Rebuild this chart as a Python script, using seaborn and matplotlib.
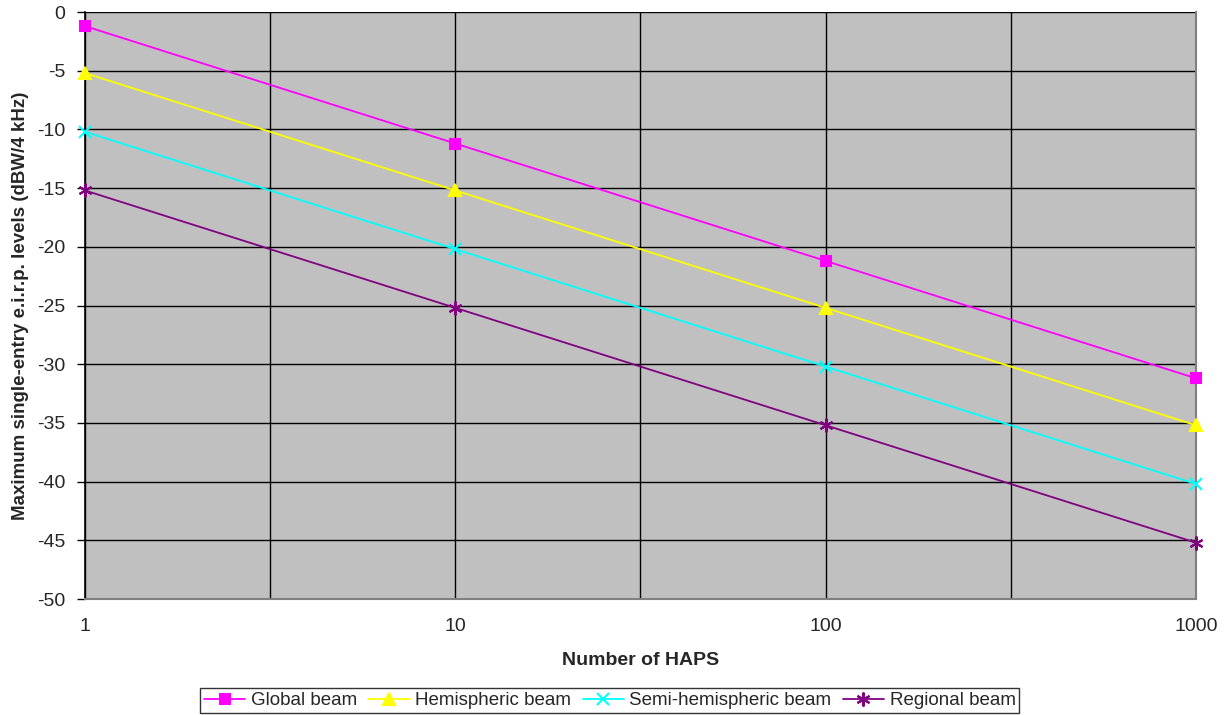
import matplotlib
matplotlib.use("Agg")
import matplotlib.pyplot as plt
import seaborn as sns
import pandas as pd
import numpy as np

haps = [1, 10, 100, 1000]
global_beam = [-1.2, -11.2, -21.2, -31.2]
hemispheric_beam = [-5.2, -15.2, -25.2, -35.2]
semi_hemispheric_beam = [-10.2, -20.2, -30.2, -40.2]
regional_beam = [-15.2, -25.2, -35.2, -45.2]
series_names = ["Global beam", "Hemispheric beam", "Semi-hemispheric beam", "Regional beam"]
y_ticks = list(range(0, -55, -5))

sns.set_style("white")
plt.rcParams["font.family"] = ["Liberation Sans", "DejaVu Sans"]

frames = []
for name, vals in zip(series_names,
                      [global_beam, hemispheric_beam, semi_hemispheric_beam, regional_beam]):
    frames.append(pd.DataFrame({"HAPS": haps, "EIRP": vals, "Series": name}))
df = pd.concat(frames, ignore_index=True)

colors = {"Global beam": "#FF00FF", "Hemispheric beam": "#FFFF00",
          "Semi-hemispheric beam": "#00FFFF", "Regional beam": "#800080"}
markers = {"Global beam": "s", "Hemispheric beam": "^",
           "Semi-hemispheric beam": "x", "Regional beam": (6, 2, 0)}
sizes = {"Global beam": 7, "Hemispheric beam": 8,
         "Semi-hemispheric beam": 8, "Regional beam": 10}

fig = plt.figure(figsize=(12.27, 7.15), dpi=100)
ax = fig.add_axes([0.0693, 0.1622, 0.9054, 0.821])
ax.set_facecolor("#C0C0C0")

for name in series_names:
    sub = df[df["Series"] == name]
    sns.lineplot(data=sub, x="HAPS", y="EIRP", ax=ax, color=colors[name],
                 marker=markers[name], markersize=sizes[name], linewidth=1.3,
                 markeredgecolor=colors[name], markeredgewidth=1.5,
                 label=name, clip_on=False, zorder=3)

ax.set_xscale("log")
ax.set_xlim(1, 1000)
ax.set_ylim(-50, 0)
ax.set_xticks(haps)
ax.set_xticklabels([str(h) for h in haps])
ax.set_xticks([10 ** 0.5, 10 ** 1.5, 10 ** 2.5], minor=True)
ax.xaxis.set_minor_formatter(matplotlib.ticker.NullFormatter())
ax.set_yticks(y_ticks)
ax.set_yticklabels([str(t) for t in y_ticks])

ax.grid(True, which="both", axis="x", color="black", linewidth=1.0)
ax.grid(True, which="major", axis="y", color="black", linewidth=1.0)
ax.set_axisbelow(True)

ax.tick_params(axis="x", which="both", length=0, pad=14, labelsize=14)
ax.tick_params(axis="y", length=6, width=1, color="black", direction="out",
               pad=8, labelsize=14, left=True)

ax.spines["left"].set_color("black")
ax.spines["left"].set_linewidth(1.2)
for side in ["right", "bottom"]:
    ax.spines[side].set_color("#808080")
    ax.spines[side].set_linewidth(1.5)
ax.spines["top"].set_visible(False)

ax.set_xlabel("Number of HAPS", fontsize=14, fontweight="bold", labelpad=12)
ax.set_ylabel("Maximum single-entry e.i.r.p. levels (dBW/4 kHz)",
              fontsize=13.5, fontweight="bold", labelpad=6)

leg = ax.legend(loc="lower center", ncol=4, frameon=True, fancybox=False,
                fontsize=13.5, handlelength=2.2, handletextpad=0.3,
                columnspacing=0.6, borderpad=0.2, borderaxespad=0)
leg.get_frame().set_edgecolor("black")
leg.get_frame().set_linewidth(1.0)
leg.set_bbox_to_anchor((0.497, 0.003), transform=fig.transFigure)

fig.savefig("out.png", dpi=100, facecolor="white")
